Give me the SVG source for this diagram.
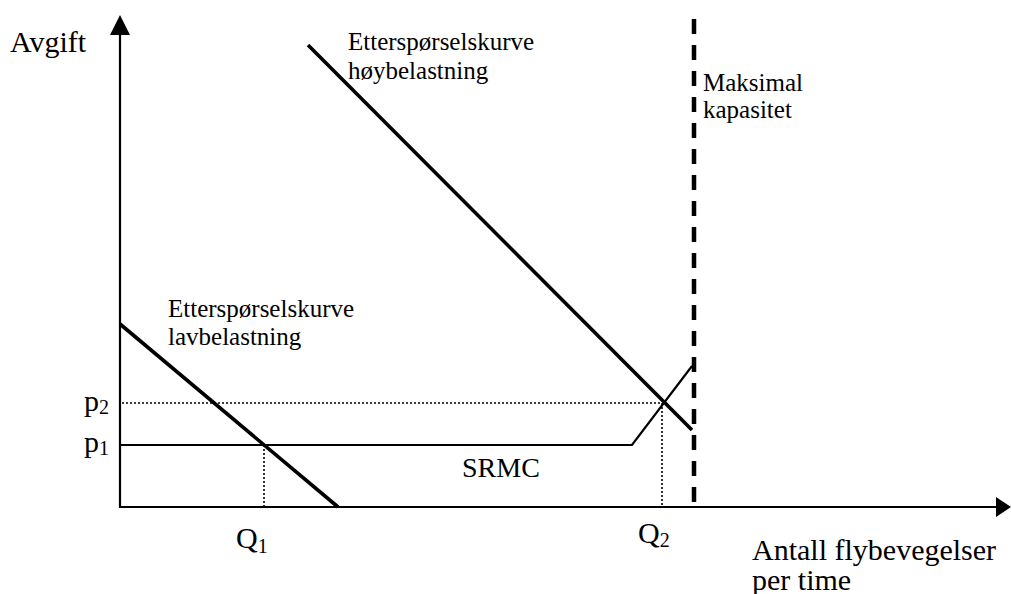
<svg xmlns="http://www.w3.org/2000/svg" width="1011" height="594" viewBox="0 0 1011 594">
<style>
text{font-family:"Liberation Serif","Times New Roman",serif;fill:#000}
.big{font-size:30px}
.sm{font-size:25px}
.sub{font-size:20px}
.axis{stroke:#000;stroke-width:2.2;fill:none}
.demand{stroke:#000;stroke-width:3.6;fill:none}
.srmc{stroke:#000;stroke-width:2.2;fill:none}
.dot{stroke:#000;stroke-width:1.6;stroke-dasharray:2 2;fill:none}
.cap{stroke:#000;stroke-width:4.5;stroke-dasharray:15 11;fill:none}
</style>
<rect width="1011" height="594" fill="#fff"/>
<g id="connectors">
  <g id="axes">
    <line class="axis" x1="120" y1="508" x2="120" y2="34"/>
    <polygon points="110,35 130,35 120,15" fill="#000"/>
    <line class="axis" x1="119" y1="507" x2="997" y2="507"/>
    <polygon points="996,497 996,517 1011,507" fill="#000"/>
  </g>
  <g id="guides">
    <line class="dot" x1="122" y1="403" x2="662" y2="403"/>
    <line class="dot" x1="662" y1="403" x2="662" y2="506"/>
    <line class="dot" x1="264" y1="445" x2="264" y2="506"/>
  </g>
  <path id="srmc-curve" class="srmc" d="M120,445 L632,445 L692,366"/>
  <line id="demand-high" class="demand" x1="308" y1="45" x2="692" y2="430"/>
  <line id="demand-low" class="demand" x1="120" y1="324" x2="338" y2="507"/>
  <line id="max-capacity" class="cap" x1="694" y1="19" x2="694" y2="507"/>
</g>
<g id="label-avgift"><text class="big" x="10" y="52">Avgift</text></g>
<g id="label-high"><text class="sm" x="348" y="50">Etterspørselskurve</text><text class="sm" x="348" y="79">høybelastning</text></g>
<g id="label-cap"><text class="sm" x="703" y="91">Maksimal</text><text class="sm" x="703" y="118">kapasitet</text></g>
<g id="label-low"><text class="sm" x="168" y="317">Etterspørselskurve</text><text class="sm" x="168" y="345">lavbelastning</text></g>
<g id="label-p2"><text class="big" x="84" y="411">p<tspan class="sub" dy="3">2</tspan></text></g>
<g id="label-p1"><text class="big" x="84" y="452">p<tspan class="sub" dy="3">1</tspan></text></g>
<g id="label-srmc"><text class="big" x="462" y="477" style="font-size:28px">SRMC</text></g>
<g id="label-q1"><text class="big" x="236" y="548">Q<tspan class="sub" dy="5">1</tspan></text></g>
<g id="label-q2"><text class="big" x="638" y="543">Q<tspan class="sub" dy="4">2</tspan></text></g>
<g id="label-x"><text class="big" x="752" y="560">Antall flybevegelser</text><text class="big" x="752" y="590">per time</text></g>
</svg>
